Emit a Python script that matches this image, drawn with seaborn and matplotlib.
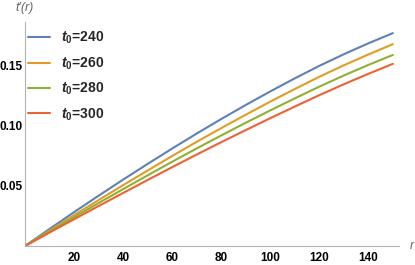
import numpy as np
import pandas as pd
import seaborn as sns
import matplotlib.pyplot as plt
from matplotlib.ticker import FixedLocator, FixedFormatter

# values
r_vals = [0, 10, 20, 30, 40, 50, 60, 70, 80, 90, 100, 110, 120, 130, 140, 150]
t0_240 = [0, 0.0142, 0.0282, 0.0419, 0.0553, 0.0684, 0.0812, 0.0937, 0.1058, 0.1175, 0.1288, 0.1397, 0.1501, 0.1598, 0.1689, 0.1774]
t0_260 = [0, 0.0129, 0.0257, 0.0383, 0.0507, 0.0629, 0.0750, 0.0868, 0.0982, 0.1094, 0.1203, 0.1308, 0.1410, 0.1506, 0.1596, 0.1682]
t0_280 = [0, 0.0121, 0.0240, 0.0358, 0.0474, 0.0589, 0.0702, 0.0813, 0.0921, 0.1027, 0.1130, 0.1230, 0.1328, 0.1421, 0.1509, 0.1592]
t0_300 = [0, 0.0112, 0.0223, 0.0333, 0.0442, 0.0550, 0.0657, 0.0762, 0.0865, 0.0966, 0.1065, 0.1162, 0.1257, 0.1348, 0.1435, 0.1518]
series_names = ["240", "260", "280", "300"]
colours = ["#5E81B5", "#E19C24", "#8FB032", "#EB6235"]

sns.set_style("white")
plt.rcParams["font.family"] = ["Liberation Sans", "DejaVu Sans"]
plt.rcParams["mathtext.fontset"] = "custom"
plt.rcParams["mathtext.it"] = "Liberation Sans:italic"
plt.rcParams["mathtext.bf"] = "Liberation Sans:bold"
plt.rcParams["mathtext.bfit"] = "Liberation Sans:italic:bold"
plt.rcParams["mathtext.rm"] = "Liberation Sans"

rows = []
for name, vals in zip(series_names, [t0_240, t0_260, t0_280, t0_300]):
    for r, v in zip(r_vals, vals):
        rows.append((r, v, name))
df = pd.DataFrame(rows, columns=["r", "t", "t0"])

fig = plt.figure(figsize=(4.15, 2.65), dpi=100)
ax = fig.add_axes([25 / 415, 19 / 265, 374 / 415, 224 / 265])

sns.lineplot(data=df, x="r", y="t", hue="t0", palette=colours, linewidth=1.5, ax=ax, legend=False)

ax.set_xlim(0, 152.5)
ax.set_ylim(0, 224 / 1200)

for s in ["top", "right"]:
    ax.spines[s].set_visible(False)
for s in ["left", "bottom"]:
    ax.spines[s].set_color("#b3b3b3")
    ax.spines[s].set_linewidth(0.8)

ax.xaxis.set_major_locator(FixedLocator([20, 40, 60, 80, 100, 120, 140]))
ax.xaxis.set_minor_locator(FixedLocator([x for x in range(5, 155, 5) if x % 20 != 0]))
ax.yaxis.set_major_locator(FixedLocator([0.05, 0.10, 0.15]))
ax.yaxis.set_major_formatter(FixedFormatter(["0.05", "0.10", "0.15"]))
ax.yaxis.set_minor_locator(FixedLocator([0.01, 0.02, 0.03, 0.04, 0.06, 0.07, 0.08, 0.09,
                                         0.11, 0.12, 0.13, 0.14, 0.16, 0.17, 0.18]))
ax.tick_params(which="major", direction="in", length=4, width=0.7, color="#b3b3b3",
               labelsize=8.5, labelcolor="black")
ax.tick_params(which="minor", direction="in", length=2, width=0.6, color="#b3b3b3")
ax.tick_params(axis="x", which="major", pad=4)
ax.tick_params(axis="y", which="major", pad=1.5)
for lab in ax.get_xticklabels() + ax.get_yticklabels():
    lab.set_fontweight("bold")
ax.set_xlabel("")
ax.set_ylabel("")

fig.text(25 / 415, 1 - 8 / 265, "t\u2032(r)", ha="center", va="center", fontsize=9,
         style="italic", color="#666666")
fig.text(412 / 415, 1 - 246 / 265, "r", ha="center", va="center", fontsize=9,
         style="italic", color="#666666")

handles = [plt.Line2D([], [], color=c, linewidth=1.5) for c in colours]
labels = [r"$\mathbfit{t}_\mathbf{0}$=" + n for n in series_names]
leg = fig.legend(handles, labels, loc="upper left", bbox_to_anchor=(28 / 415, 1 - 30 / 265),
                 frameon=False, handlelength=1.6, handletextpad=0.8, labelspacing=0.65,
                 prop={"size": 10, "weight": "bold"}, borderaxespad=0, borderpad=0)

fig.savefig("out.png", dpi=100)
